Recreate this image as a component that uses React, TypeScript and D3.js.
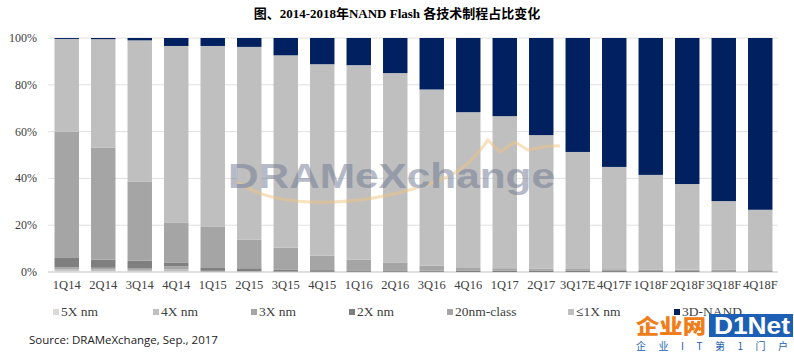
import React from "react";
import * as d3 from "d3";

const quarters = ["1Q14","2Q14","3Q14","4Q14","1Q15","2Q15","3Q15","4Q15","1Q16","2Q16","3Q16","4Q16","1Q17","2Q17","3Q17E","4Q17F","1Q18F","2Q18F","3Q18F","4Q18F"];
const s5X = [0.5,0.4,0.3,0.3,0,0,0,0,0,0,0,0,0,0,0,0,0,0,0,0];
const s4X = [0.7,0.6,0.6,0.8,0.2,0.2,0,0,0,0,0,0,0,0,0,0,0,0,0,0];
const s3X = [0.8,0.8,0.8,1.3,0.3,0.2,0.3,0.1,0.1,0.1,0.1,0,0,0,0,0,0,0,0,0];
const s2X = [4.0,3.5,3.1,1.7,1.5,1.2,0.8,0.7,0.6,0.6,0.5,0.5,0.5,0.5,0.5,0.4,0.4,0.4,0.3,0.3];
const s20nm = [54,47.8,33.7,17.1,17.5,12.3,9.3,6.2,4.6,3.4,2.1,1.2,1.1,0.9,0.8,0.8,0.7,0.6,0.6,0.5];
const s1X = [39.6,46.4,60.5,75.4,77.1,82.3,82.2,81.8,83.1,80.9,75.3,66.6,65.0,57.1,50.0,43.7,40.4,36.6,29.4,25.8];
const s3D = [0.4,0.5,1.0,3.4,3.4,3.8,7.4,11.2,11.6,15.0,22.0,31.7,33.4,41.5,48.7,55.1,58.5,62.4,69.7,73.4];
const seriesNames = ["5X nm","4X nm","3X nm","2X nm","20nm-class","≤1X nm","3D-NAND"];
const seriesValues = [s5X, s4X, s3X, s2X, s20nm, s1X, s3D];
const yTicks = [0, 20, 40, 60, 80, 100];
const colors = ["#d9d9d9","#bfbfbf","#a5a5a5","#7f7f7f","#a5a5a5","#bfbfbf","#002060"];
const legendX = [57, 157, 255, 353, 451, 572, 678];

export default function App() {
  const W = 794, H = 352;
  const x = d3.scaleBand<string>().domain(quarters).range([48.5, 778.5]).paddingInner(0.33).paddingOuter(0.165);
  const y = d3.scaleLinear().domain([0, 100]).range([272, 38]);
  const rows = quarters.map((q, i) => {
    const r: any = { q };
    seriesNames.forEach((n, k) => (r[n] = seriesValues[k][i]));
    return r;
  });
  const stacked = d3.stack<any>().keys(seriesNames)(rows);
  const serif = "'Liberation Serif', 'Times New Roman', serif";
  return (
    <svg width={W} height={H} style={{ position: "absolute", left: 0, top: 0, background: "#fff" }}>
      <rect x={0} y={0} width={W} height={H} fill="#fff" />
      <text x={397} y={18} textAnchor="middle" fontFamily={"'Liberation Serif', 'Noto Sans CJK SC', serif"} fontWeight="bold" fontSize={13}>图、2014-2018年NAND Flash 各技术制程占比变化</text>
      {yTicks.map(t => (
        <g key={t}>
          <line x1={48} x2={778} y1={y(t)} y2={y(t)} stroke={t === 0 ? "#bfbfbf" : "#e0e0e0"} strokeWidth={1} />
          <text x={37} y={y(t) + 4} textAnchor="end" fontFamily={serif} fontSize={12} fill="#404040">{t}%</text>
        </g>
      ))}
      {stacked.map((s, k) => (
        <g key={k} fill={colors[k]}>
          {s.map((d, i) => (
            <rect key={i} x={x(quarters[i])} width={x.bandwidth()} y={y(d[1])} height={Math.max(0, y(d[0]) - y(d[1]))} />
          ))}
        </g>
      ))}
      <g opacity={0.5}>
        <path d="M 232 178 C 270 210, 360 210, 440 180 C 470 168, 480 150, 488 140 L 500 152 L 515 142 L 528 150 C 540 148, 550 145, 560 146" fill="none" stroke="#f2c47e" strokeWidth={3} />
        <text x={228} y={188} fontFamily="'Liberation Sans', Arial, sans-serif" fontWeight="bold" fontSize={35} fill="#6f7892" textLength={327} lengthAdjust="spacingAndGlyphs">DRAMeXchange</text>
      </g>
      {quarters.map(q => (
        <text key={q} x={(x(q) as number) + x.bandwidth() / 2} y={289} textAnchor="middle" fontFamily={serif} fontSize={12.5} fill="#404040">{q}</text>
      ))}
      {seriesNames.map((n, k) => (
        <g key={n}>
          <rect x={legendX[k] - 4} y={309} width={6} height={6} fill={colors[k]} />
          <text x={legendX[k] + 4} y={316} fontFamily={serif} fontSize={13.5} fill="#404040">{n}</text>
        </g>
      ))}
      <text x={29} y={344} fontFamily="'Open Sans', 'Liberation Sans', sans-serif" fontSize={11.5} fill="#222">Source: DRAMeXchange, Sep., 2017</text>
      <g>
        <text x={636} y={334} fontFamily="'Noto Sans CJK SC', sans-serif" fontWeight="900" fontSize={20} fill="#f07d1a" textLength={70} lengthAdjust="spacingAndGlyphs">企业网</text>
        <rect x={709} y={314} width={84} height={23} fill="#1d5fb4" />
        <text x={714} y={334} fontFamily="'Liberation Sans', Arial, sans-serif" fontWeight="bold" fontSize={24} fill="#fff" textLength={76} lengthAdjust="spacingAndGlyphs">D1Net</text>
        <text x={636} y={350} fontFamily="'Noto Sans CJK SC', sans-serif" fontSize={10} fill="#1d5fb4" textLength={152} lengthAdjust="spacing">企 业 I T 第 1 门 户</text>
      </g>
    </svg>
  );
}
